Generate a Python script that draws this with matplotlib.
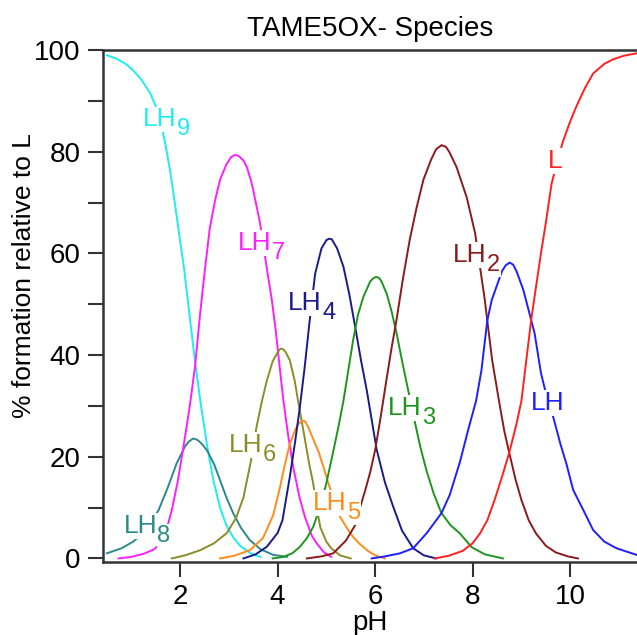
import matplotlib
matplotlib.use("Agg")
import matplotlib.pyplot as plt

plt.rcParams['font.family'] = ['Liberation Sans', 'DejaVu Sans']

# species curves: (pH, % formation)
lh9_ph = [0.5, 0.7, 0.9, 1.04, 1.2, 1.39, 1.5, 1.6, 1.7, 1.8, 1.9, 2.0, 2.07, 2.15, 2.23, 2.31, 2.43, 2.55,
          2.68, 2.82, 2.95, 3.1, 3.23, 3.45, 3.65]
lh9_val = [99, 98.3, 97.2, 96, 94.3, 91.5, 89, 86, 81.5, 76, 69.5, 62.5, 58, 51.5, 45, 38.5, 30, 22.5,
           15.5, 10, 6.5, 4, 2.5, 1, 0.3]

lh8_ph = [0.5, 0.8, 1.04, 1.3, 1.56, 1.75, 1.93, 2.1, 2.18, 2.27, 2.36, 2.45, 2.55, 2.7, 2.82, 2.95, 3.09,
          3.25, 3.43, 3.65, 3.91, 4.19]
lh8_val = [1, 2, 3.3, 5.5, 9.5, 14, 18.7, 22, 23, 23.6, 23.3, 22.5, 21.3, 18.5, 15.4, 12, 8.9,
           6, 3.6, 1.8, 0.7, 0.3]

lh7_ph = [0.74, 1.0, 1.25, 1.45, 1.59, 1.72, 1.83, 1.95, 2.07, 2.2, 2.31, 2.41, 2.5, 2.61, 2.72, 2.82, 2.95,
          3.05, 3.13, 3.2, 3.3, 3.37, 3.45, 3.5, 3.64, 3.78, 3.88, 3.96, 4.05, 4.12, 4.22, 4.32, 4.45, 4.56,
          4.7, 4.8, 4.95, 5.1]
lh7_val = [0, 0.3, 0.9, 1.7, 2.8, 5.5, 9.5, 15, 22, 30, 38, 48, 56, 65, 70.5, 74.5, 77.5,
           79, 79.4, 79.2, 78.3, 77, 74.5, 72.5, 66, 57, 51, 45, 37, 31, 24, 18, 12, 8.2,
           4.5, 3, 1.2, 0.3]

lh6_ph = [1.83, 2.1, 2.41, 2.7, 2.96, 3.15, 3.3, 3.45, 3.57, 3.68, 3.78, 3.9, 4.0, 4.04, 4.08, 4.12, 4.17,
          4.25, 4.35, 4.42, 4.55, 4.65, 4.73, 4.8, 4.88, 5.0, 5.1, 5.28, 5.5]
lh6_val = [0, 0.6, 1.6, 3, 5, 8, 12, 19, 26, 31, 35, 38.8, 40.5, 41.1, 41.3, 41.1, 40.5,
           39, 35, 31, 24, 18.5, 14.8, 10, 6, 3.3, 2, 0.6, 0]

lh5_ph = [2.82, 3.1, 3.43, 3.7, 3.91, 4.05, 4.15, 4.25, 4.37, 4.44, 4.51, 4.56, 4.62, 4.73, 4.84, 4.94,
          5.05, 5.18, 5.28, 5.42, 5.55, 5.69, 5.85, 6.0, 6.2]
lh5_val = [0, 0.5, 1.6, 4, 8.5, 14, 18.5, 22.5, 25.5, 26.6, 27.1, 27.0, 26, 23.5, 21, 18,
           14.5, 11, 8.2, 6, 4.2, 2.8, 1.5, 0.6, 0]

lh4_ph = [3.3, 3.55, 3.78, 4.0, 4.1, 4.25, 4.36, 4.46, 4.56, 4.66, 4.77, 4.9, 5.0, 5.05, 5.11, 5.22, 5.35,
          5.47, 5.59, 5.71, 5.83, 6.03, 6.2, 6.37, 6.55, 6.78, 7.0, 7.25]
lh4_val = [0, 0.8, 2.3, 5, 7.5, 16, 23, 30, 38, 47, 56, 61, 62.6, 62.9, 62.8, 61, 57.4,
           52, 45.6, 39, 33, 21.5, 15, 10.2, 5.5, 2, 0.6, 0]

lh3_ph = [3.9, 4.12, 4.3, 4.46, 4.6, 4.73, 4.87, 5.0, 5.14, 5.25, 5.35, 5.45, 5.55, 5.65, 5.76, 5.9, 5.96,
          6.02, 6.08, 6.13, 6.24, 6.34, 6.44, 6.56, 6.68, 6.82, 6.93, 7.05, 7.2, 7.36, 7.55, 7.74, 7.98,
          8.25, 8.62]
lh3_val = [0, 0.3, 1, 2.3, 4, 6.2, 10, 14.8, 21, 26, 31, 37, 43, 48, 51.5, 54.5, 55.1,
           55.4, 55.2, 54.5, 52, 48.5, 44.3, 38.5, 33, 26.6, 21.8, 17.4, 12.8, 8.9, 6.5, 4.9, 2.2,
           0.8, 0]

lh2_ph = [4.6, 4.9, 5.14, 5.4, 5.62, 5.69, 5.8, 5.9, 6.0, 6.1, 6.23, 6.33, 6.44, 6.57, 6.71, 6.85, 6.99,
          7.15, 7.25, 7.36, 7.45, 7.52, 7.67, 7.88, 8.05, 8.15, 8.25, 8.3, 8.4, 8.54, 8.65, 8.75, 8.88,
          9.0, 9.15, 9.3, 9.5, 9.7, 9.95, 10.16]
lh2_val = [0, 0.4, 1, 3.5, 7, 10, 13.5, 17, 21.3, 27, 35, 41, 47, 55, 62.7, 69, 74.5,
           78.5, 80.5, 81.3, 81, 80, 77, 71, 64, 57.4, 50.8, 46.8, 39, 31, 25, 20.8, 15.5,
           11.5, 7.5, 4.9, 2.5, 1.2, 0.4, 0]

lh_ph = [5.93, 6.2, 6.51, 6.78, 7.06, 7.36, 7.53, 7.74, 7.9, 8.07, 8.18, 8.3, 8.39, 8.49, 8.6, 8.68, 8.76,
         8.83, 8.9, 9.04, 9.2, 9.27, 9.4, 9.54, 9.65, 9.8, 9.92, 10.06, 10.27, 10.47, 10.7, 10.95, 11.36]
lh_val = [0, 0.4, 1, 2, 5, 8.9, 12.5, 19, 25, 31, 37, 46.8, 50.8, 53.5, 56.5, 57.7, 58.2,
          57.8, 56.5, 52.8, 46.9, 44.3, 36.5, 31, 27.9, 22.5, 18.7, 13.5, 9.5, 5.6, 3.3, 2, 0.7]

l_ph = [7.22, 7.5, 7.8, 8.0, 8.15, 8.3, 8.45, 8.6, 8.75, 8.9, 9.0, 9.1, 9.2, 9.3, 9.4, 9.5, 9.62, 9.75,
        9.85, 10.0, 10.13, 10.3, 10.47, 10.7, 10.88, 11.1, 11.37]
l_val = [0, 0.5, 1.5, 3, 4.9, 7.5, 11.5, 16, 20.8, 26.5, 31, 39, 46.9, 53.5, 60, 66, 73.8, 78.5,
         82, 86, 89, 92.5, 95.4, 97.3, 98.2, 98.9, 99.4]

# curve, colour, label text, subscript, label anchor (pH, baseline value)
species = [
    (lh9_ph, lh9_val, '#1EEEEE', 'LH', '9', 1.92, 85.0),
    (lh8_ph, lh8_val, '#2A8A8A', 'LH', '8', 1.53, 5.0),
    (lh7_ph, lh7_val, '#FF1EFF', 'LH', '7', 3.88, 60.7),
    (lh6_ph, lh6_val, '#8C8C28', 'LH', '6', 3.70, 20.9),
    (lh5_ph, lh5_val, '#FF8C1A', 'LH', '5', 5.42, 9.5),
    (lh4_ph, lh4_val, '#1A1A8C', 'LH', '4', 4.91, 48.9),
    (lh3_ph, lh3_val, '#1E961E', 'LH', '3', 6.96, 28.2),
    (lh2_ph, lh2_val, '#8C1A1A', 'LH', '2', 8.29, 58.3),
    (lh_ph, lh_val, '#1E1EFF', 'LH', '', 9.54, 29.2),
    (l_ph, l_val, '#FF2020', 'L', '', 9.70, 76.8),
]

fig = plt.figure(figsize=(6.37, 6.35), dpi=100)
ax = fig.add_axes([0.1617, 0.115, 0.8383, 0.806])

box = dict(facecolor='white', edgecolor='none', pad=0.5)
for ph, val, col, base, sub, lx, ly in species:
    ax.plot(ph, val, color=col, lw=1.4, zorder=2)
    ax.text(lx, ly, base, color=col, fontsize=19, ha='right' if sub else 'center',
            va='baseline', zorder=3, bbox=box)
    if sub:
        ax.annotate(sub, (lx, ly), xytext=(0.2, -6.5), textcoords='offset points',
                    color=col, fontsize=17, ha='left', va='baseline', zorder=3, bbox=box)

ax.set_xlim(0.42, 11.37)
ax.set_ylim(-0.7, 100)
ax.set_xticks([2, 4, 6, 8, 10])
ax.set_yticks([0, 20, 40, 60, 80, 100])
ax.set_yticks([10, 30, 50, 70, 90], minor=True)
ax.tick_params(axis='both', which='both', direction='out', length=11, width=1.5,
               labelsize=20, color='#333333', pad=5)
ax.spines['right'].set_visible(False)
for s in ['left', 'bottom', 'top']:
    ax.spines[s].set_linewidth(1.8)
    ax.spines[s].set_color('#333333')

ax.set_xlabel('pH', fontsize=20, labelpad=0)
ax.set_ylabel('% formation relative to L', fontsize=19)
ax.yaxis.set_label_coords(-0.125, 0.56)
ax.set_title('TAME5OX- Species', fontsize=20, pad=10)

fig.savefig('out.png', dpi=100)
